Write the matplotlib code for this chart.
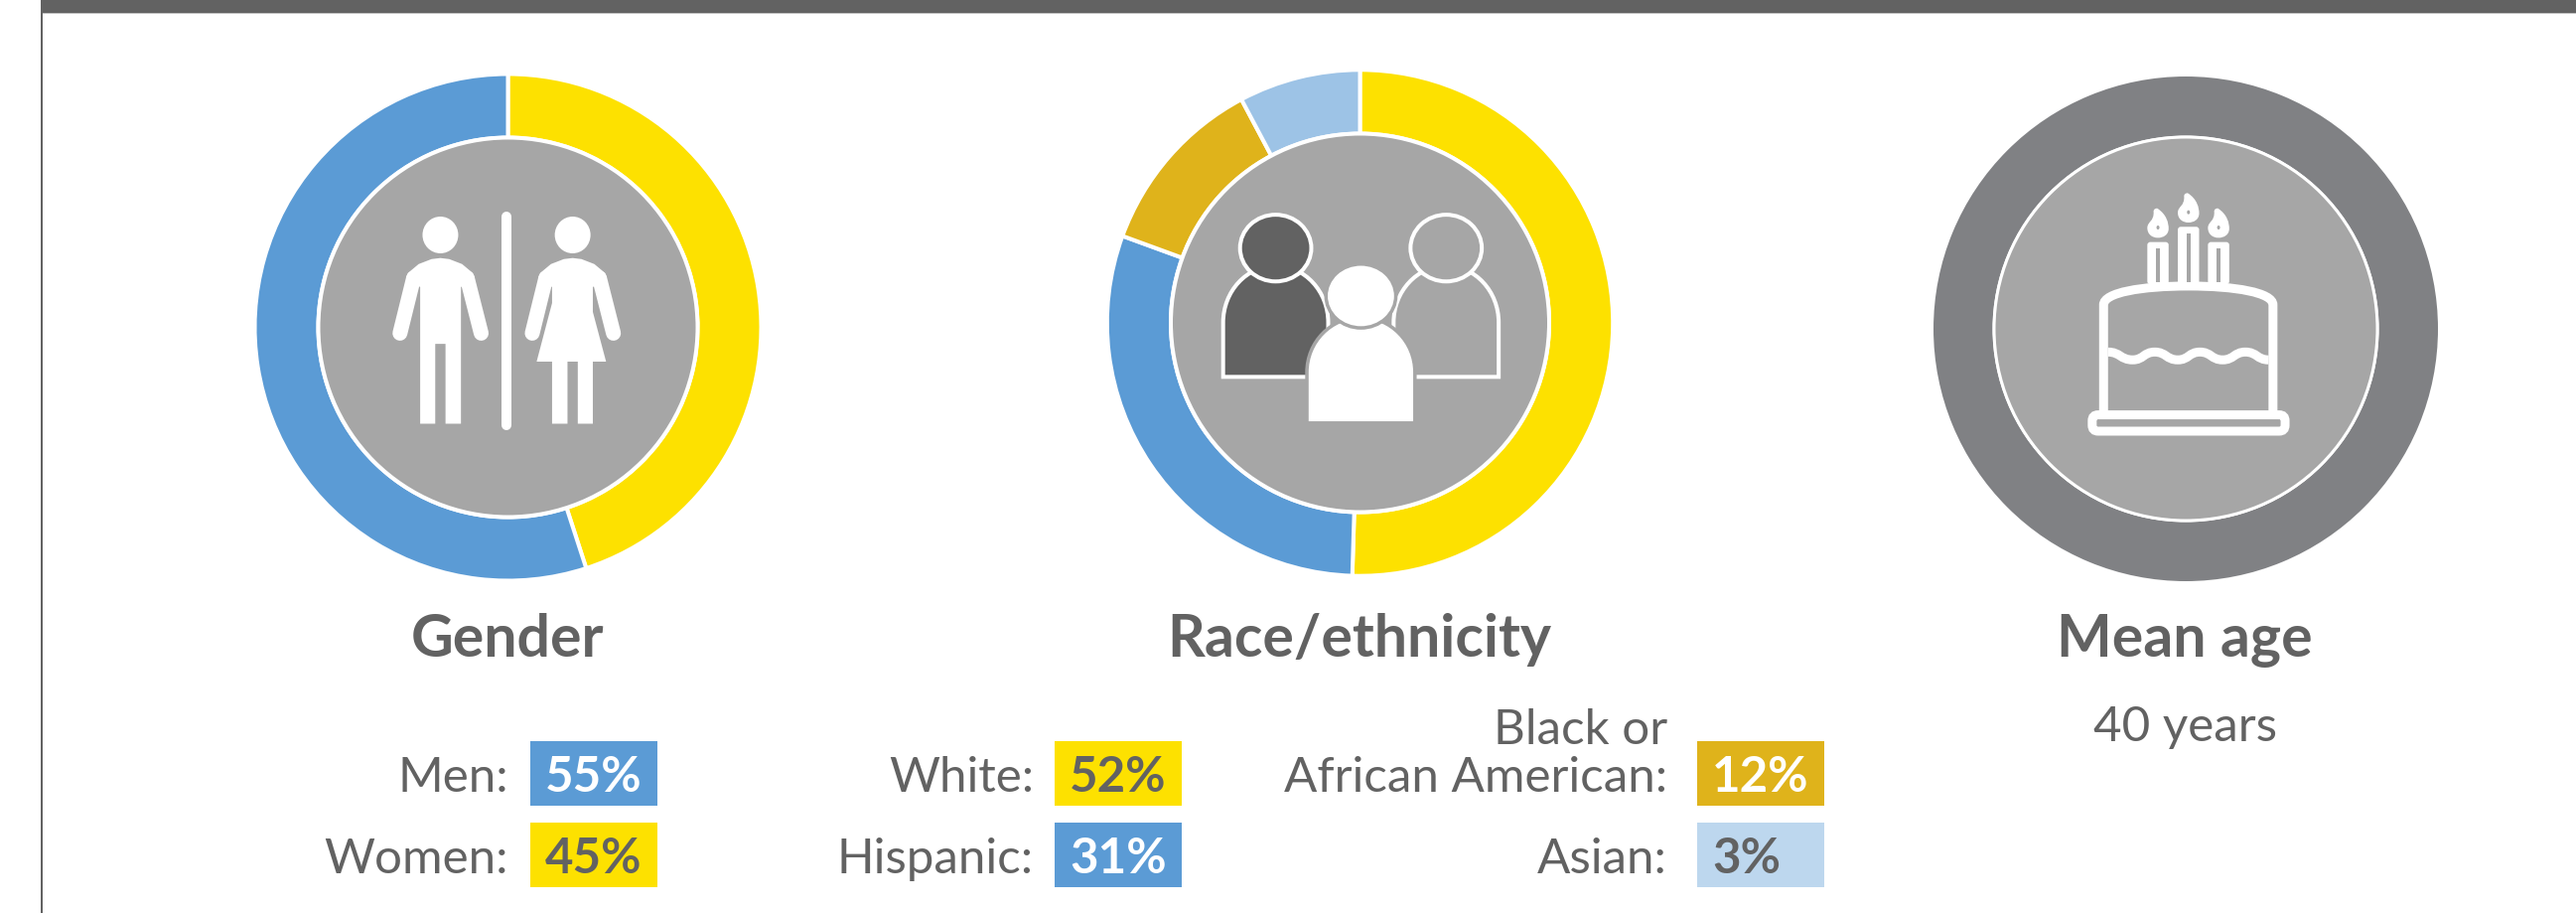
"""Demographics panel: gender and race/ethnicity donuts, mean age ring, with pictograms."""
import matplotlib
matplotlib.use('Agg')
import matplotlib.pyplot as plt
from matplotlib.patches import Circle, Ellipse, FancyBboxPatch, PathPatch, Polygon, Rectangle
from matplotlib.path import Path

WIDTH = 2594
HEIGHT = 920
DPI = 100

BLUE = '#5B9BD5'
YELLOW = '#FDE100'
GOLD = '#DFB31B'
LIGHT_BLUE = '#9DC3E6'
PALE_BLUE = '#BDD7EE'
INNER_GREY = '#A6A6A6'
AGE_GREY = '#808184'
DARK = '#626262'
FONT = 'Lato'

# Donut slices, clockwise from 12 o'clock
gender_slices = [45, 55]
gender_colors = [YELLOW, BLUE]
race_slices = [52, 31, 12, 8]
race_colors = [YELLOW, BLUE, GOLD, LIGHT_BLUE]
age_slices = [40]
age_colors = [AGE_GREY]

# Legend rows
gender_labels = ['Men:', 'Women:']
gender_shares = ['55%', '45%']
gender_box_colors = [BLUE, YELLOW]
gender_text_colors = ['white', DARK]

race_left_labels = ['White:', 'Hispanic:']
race_left_shares = ['52%', '31%']
race_left_box_colors = [YELLOW, BLUE]
race_left_text_colors = [DARK, 'white']

race_right_labels = ['Black or\nAfrican American:', 'Asian:']
race_right_shares = ['12%', '3%']
race_right_box_colors = [GOLD, PALE_BLUE]
race_right_text_colors = ['white', DARK]


def px(width):
    """Pixels to points."""
    return width * 72 / DPI


fig = plt.figure(figsize=(WIDTH / DPI, HEIGHT / DPI), dpi=DPI, facecolor='white')


def draw_donut(cx, cy, radius, inner, slices, colors, gap=4):
    ax = fig.add_axes([(cx - radius) / WIDTH, 1 - (cy + radius) / HEIGHT,
                       2 * radius / WIDTH, 2 * radius / HEIGHT])
    outer = 1 + gap / 2 / radius
    ax.pie(slices, colors=colors, startangle=90, counterclock=False, radius=outer,
           wedgeprops={'width': outer - (inner - gap / 2) / radius, 'edgecolor': 'white',
                       'linewidth': px(gap), 'clip_on': False})
    ax.set_xlim(-1, 1)
    ax.set_ylim(-1, 1)
    ax.add_patch(Circle((0, 0), (inner - gap / 2) / radius, fc=INNER_GREY, ec='white',
                        lw=px(gap), zorder=5))
    ax.axis('off')


draw_donut(511.5, 330.5, 253, 193, gender_slices, gender_colors)
draw_donut(1369.5, 326, 252.7, 192.5, race_slices, race_colors)
draw_donut(2201, 332, 254, 194.5, age_slices, age_colors, gap=3)

# Overlay in pixel coordinates for the frame, pictograms and text
over = fig.add_axes([0, 0, 1, 1])
over.set_xlim(0, WIDTH)
over.set_ylim(HEIGHT, 0)
over.axis('off')
over.patch.set_alpha(0)

over.add_patch(Rectangle((41, 0), WIDTH - 41, 14, fc=DARK, ec='none'))
over.add_patch(Rectangle((41, 14), WIDTH - 41, 1.2, fc='#C4C4C4', ec='none'))
over.add_patch(Rectangle((41, 0), 2, HEIGHT, fc=DARK, ec='none'))


def to_px(origin_x, origin_y):
    """Converter from crop coordinates (2.703 / 2.8 per pixel) to figure pixels."""
    return lambda x, y: (origin_x + x / 2.703, origin_y + y / 2.8)


# Gender pictogram
conv = to_px(220, 40)


def draw_limbs(offset):
    for x0, x1 in ((531, 494), (677, 715)):
        a, b = conv(x0 + offset, 675), conv(x1 + offset, 830)
        over.plot([a[0], b[0]], [a[1], b[1]], color='white', lw=px(15),
                  solid_capstyle='round')
    hx, hy = conv(604 + offset, 553)
    over.add_patch(Ellipse((hx, hy), 36, 37, fc='white', ec='none'))


man = [(549, 1085), (549, 700), (522, 680), (511, 672), (516, 660), (545, 635), (580, 621),
       (604, 618), (628, 621), (663, 635), (692, 660), (697, 672), (688, 680), (660, 700),
       (660, 1085), (618, 1085), (618, 860), (590, 860), (590, 1085)]
over.add_patch(Polygon([conv(*p) for p in man], fc='white', ec='none'))
draw_limbs(0)

woman = [(908, 1085), (908, 910), (866, 910), (908, 745), (908, 700), (882, 680), (871, 672),
         (876, 660), (905, 635), (940, 621), (964, 618), (988, 621), (1023, 635), (1052, 660),
         (1057, 672), (1048, 680), (1019, 700), (1019, 770), (1055, 910), (1019, 910),
         (1019, 1085), (978, 1085), (978, 910), (950, 910), (950, 1085)]
over.add_patch(Polygon([conv(*p) for p in woman], fc='white', ec='none'))
draw_limbs(360)

a, b = conv(784, 500), conv(784, 1088)
over.plot([a[0], b[0]], [a[1], b[1]], color='white', lw=px(10), solid_capstyle='round')

# Race/ethnicity pictogram
conv = to_px(1080, 40)


def draw_person(cx, head_y, head_rx, head_ry, half_w, top, shoulder, bottom, fill, edge, lw=4):
    x0, _ = conv(cx - half_w, 0)
    x1, _ = conv(cx + half_w, 0)
    xc, _ = conv(cx, 0)
    _, y_top = conv(0, top)
    _, y_sh = conv(0, shoulder)
    _, y_b = conv(0, bottom)
    k = 0.5523
    verts = [(x0, y_b), (x0, y_sh),
             (x0, y_sh + (y_top - y_sh) * k), (xc - (xc - x0) * k, y_top), (xc, y_top),
             (xc + (x1 - xc) * k, y_top), (x1, y_sh + (y_top - y_sh) * k), (x1, y_sh),
             (x1, y_b), (x0, y_b)]
    codes = [Path.MOVETO, Path.LINETO, Path.CURVE4, Path.CURVE4, Path.CURVE4,
             Path.CURVE4, Path.CURVE4, Path.CURVE4, Path.LINETO, Path.CLOSEPOLY]
    over.add_patch(PathPatch(Path(verts, codes), fc=fill, ec=edge, lw=px(lw)))
    hx, hy = conv(cx, head_y)
    over.add_patch(Ellipse((hx, hy), 2 * head_rx / 2.703, 2 * head_ry / 2.8, fc=fill, ec=edge,
                           lw=px(lw)))


draw_person(553, 590, 97, 94, 143, 640, 800, 953, DARK, 'white')
draw_person(1017, 590, 97, 94, 143, 640, 800, 953, INNER_GREY, 'white')
draw_person(785, 725, 95, 90, 147, 785, 940, 1083, 'white', INNER_GREY, lw=3.5)

# Birthday cake pictogram
conv = to_px(1920, 40)
STROKE = 9


def curve_path(points):
    """Chain of cubic segments with horizontal tangents between the given points."""
    verts = [conv(*points[0])]
    codes = [Path.MOVETO]
    for (x0, y0), (x1, y1) in zip(points, points[1:]):
        mid = (x0 + x1) / 2
        verts += [conv(mid, y0), conv(mid, y1), conv(x1, y1)]
        codes += [Path.CURVE4] * 3
    return Path(verts, codes)


cake_verts = [conv(536, 1055), conv(536, 750), conv(536, 715), conv(640, 697), conv(767, 697),
              conv(894, 697), conv(997, 715), conv(997, 750), conv(997, 1055)]
cake_codes = [Path.MOVETO, Path.LINETO] + [Path.CURVE4] * 6 + [Path.LINETO]
over.add_patch(PathPatch(Path(cake_verts, cake_codes), fc='none', ec='white', lw=px(STROKE)))

wave = [(548, 883), (615, 905), (675, 883), (738, 905), (798, 883), (860, 905), (922, 883),
        (985, 905)]
over.add_patch(PathPatch(curve_path(wave), fc='none', ec='white', lw=px(STROKE)))

px0, py0 = conv(505, 1060)
px1, py1 = conv(1030, 1106)
over.add_patch(FancyBboxPatch((px0, py0), px1 - px0, py1 - py0,
                              boxstyle='round,pad=0,rounding_size=6', fc='none', ec='white',
                              lw=px(STROKE)))

for mid, top in ((684, 565), (767, 522), (849, 565)):
    x0, y0 = conv(mid - 29, top + 8)
    x1, y1 = conv(mid + 29, 692)
    over.add_patch(FancyBboxPatch((x0, y0), x1 - x0, y1 - y0,
                                  boxstyle='round,pad=0,rounding_size=3', fc='white', ec='none'))
    sx0, sy0 = conv(mid - 5, top + 26)
    sx1, sy1 = conv(mid + 5, 686)
    over.add_patch(Rectangle((sx0, sy0), sx1 - sx0, sy1 - sy0, fc=INNER_GREY, ec='none'))
    flame = [conv(mid - 2, top - 87), conv(mid + 24, top - 70), conv(mid + 29, top - 45),
             conv(mid + 29, top - 30), conv(mid + 29, top - 12), conv(mid + 14, top - 4),
             conv(mid, top - 4), conv(mid - 16, top - 4), conv(mid - 29, top - 14),
             conv(mid - 29, top - 32), conv(mid - 29, top - 50), conv(mid - 10, top - 50),
             conv(mid - 12, top - 78), conv(mid - 12, top - 84), conv(mid - 8, top - 87),
             conv(mid - 2, top - 87)]
    over.add_patch(PathPatch(Path(flame, [Path.MOVETO] + [Path.CURVE4] * 15), fc='white',
                             ec='none'))
    hx, hy = conv(mid, top - 33)
    over.add_patch(Ellipse((hx, hy), 3, 4, fc=INNER_GREY, ec='none'))

# Titles
TITLE_SIZE = 42.5
BODY_SIZE = 35.5
for cx, title in ((511, 'Gender'), (1369, 'Race/ethnicity'), (2200, 'Mean age')):
    over.text(cx, 661, title, family=FONT, weight='bold', size=TITLE_SIZE, color=DARK,
              ha='center', va='baseline')
over.text(2200, 746, '40 years', family=FONT, size=BODY_SIZE, color=DARK, ha='center',
          va='baseline')


def draw_legend(label_right, box_x, box_w, labels, shares, box_colors, text_colors):
    for row, (label, share, box_color, text_color) in enumerate(
            zip(labels, shares, box_colors, text_colors)):
        top = 747 + row * 82
        over.add_patch(Rectangle((box_x, top), box_w, 65, fc=box_color, ec='none'))
        over.text(label_right, top + 50, label, family=FONT, size=BODY_SIZE, color=DARK,
                  ha='right', va='baseline', linespacing=1.12)
        over.text(box_x + 15, top + 50, share, family=FONT, weight='bold', size=BODY_SIZE,
                  color=text_color, ha='left', va='baseline')


draw_legend(512, 534, 128, gender_labels, gender_shares, gender_box_colors, gender_text_colors)
draw_legend(1041, 1062, 128, race_left_labels, race_left_shares, race_left_box_colors,
            race_left_text_colors)
draw_legend(1679, 1709, 128, race_right_labels, race_right_shares, race_right_box_colors,
            race_right_text_colors)

fig.savefig('out.png', dpi=DPI)
plt.close(fig)
